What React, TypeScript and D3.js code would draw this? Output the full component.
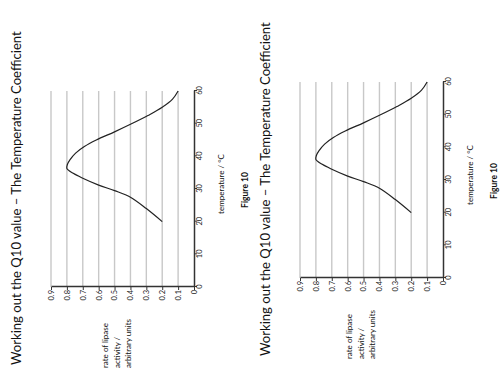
import { useEffect, useRef } from 'react';
import * as d3 from 'd3';

// Rate of lipase activity (arbitrary units)
const temperatures = [20, 24, 27.5, 29.5, 31.2, 33.3, 34.8, 36.3, 37.5, 39, 41, 43, 45, 47.5, 49.8, 52.5, 55, 57.5, 60];
const rates = [0.2, 0.3, 0.4, 0.5, 0.6, 0.7, 0.76, 0.8, 0.797, 0.78, 0.745, 0.69, 0.615, 0.5, 0.4, 0.29, 0.2, 0.135, 0.1];

const tempTicks = [0, 10, 20, 30, 40, 50, 60];
const rateTicks = [0, 0.1, 0.2, 0.3, 0.4, 0.5, 0.6, 0.7, 0.8, 0.9];
const rateTickLabels = ['0', '0.1', '0.2', '0.3', '0.4', '0.5', '0.6', '0.7', '0.8', '0.9'];

const title = 'Working out the Q10 value \u2013 The Temperature Coefficient';
const yLabelLines = ['rate of lipase', 'activity /', 'arbitrary units'];
const xLabel = 'temperature / \u00b0C';
const figureLabel = 'Figure 10';

// the same slide shows up twice, turned on its side
const slides = [
  { x: 0, y: 375, labelShift: 0 },
  { x: 249, y: 366, labelShift: -5 },
];

const FONT = 'Lato, "Open Sans", sans-serif';

export default function App() {
  const svgRef = useRef<SVGSVGElement | null>(null);

  useEffect(() => {
    if (!svgRef.current) return;
    const root = d3.select(svgRef.current);
    root.selectAll('*').remove();

    const x = d3.scaleLinear().domain([0, 60]).range([88, 284]);
    const y = d3.scaleLinear().domain([0, 0.9]).range([194, 51]);

    const points = temperatures.map((t, i) => ({ t, r: rates[i] }));
    const line = d3.line<{ t: number; r: number }>()
      .x(d => x(d.t))
      .y(d => y(d.r))
      .curve(d3.curveCatmullRom.alpha(0.5));

    slides.forEach(s => {
      const g = root.append('g')
        .attr('transform', `translate(${s.x},${s.y}) rotate(-90)`)
        .style('font-family', FONT);

      // title, sized so it spans the slide like the original
      const t = g.append('text')
        .attr('x', 10)
        .attr('y', 21)
        .attr('font-size', 17)
        .attr('fill', '#111')
        .text(title);
      const len = (t.node() as SVGTextElement).getComputedTextLength();
      if (len > 0) t.attr('font-size', 17 * 334 / len);

      // gridlines
      g.append('g')
        .selectAll('line')
        .data(rateTicks.filter(d => d > 0))
        .enter()
        .append('line')
        .attr('x1', x(0))
        .attr('x2', x(60))
        .attr('y1', d => y(d))
        .attr('y2', d => y(d))
        .attr('stroke', '#c8c8c8')
        .attr('stroke-width', 1.4);

      // axes
      const xAxis = g.append('g')
        .attr('transform', `translate(0,${y(0)})`)
        .call(d3.axisBottom(x).tickValues(tempTicks).tickSize(3).tickSizeOuter(0).tickPadding(0));
      const yAxis = g.append('g')
        .attr('transform', `translate(${x(0)},0)`)
        .call(d3.axisLeft(y).tickValues(rateTicks).tickSize(3).tickSizeOuter(0).tickPadding(0)
          .tickFormat((_, i) => rateTickLabels[i]));

      [xAxis, yAxis].forEach(a => {
        a.select('.domain').attr('stroke', '#333').attr('stroke-width', 1.5);
        a.selectAll('.tick line').attr('stroke', '#333').attr('stroke-width', 1);
        a.selectAll('.tick text')
          .attr('font-size', 7.5)
          .attr('font-family', FONT)
          .attr('fill', '#222');
      });

      // curve
      g.append('path')
        .datum(points)
        .attr('fill', 'none')
        .attr('stroke', '#222')
        .attr('stroke-width', 1.2)
        .attr('d', line);

      // y label (three lines, left aligned)
      const yl = g.append('text')
        .attr('font-size', 8)
        .attr('fill', '#111');
      yLabelLines.forEach((l, i) => {
        yl.append('tspan').attr('x', 7).attr('y', 108 + s.labelShift + i * 11.5).text(l);
      });

      g.append('text')
        .attr('x', 191)
        .attr('y', 223.5)
        .attr('text-anchor', 'middle')
        .attr('font-size', 8)
        .attr('fill', '#111')
        .text(xLabel);

      g.append('text')
        .attr('x', 185)
        .attr('y', 248)
        .attr('text-anchor', 'middle')
        .attr('font-size', 8.5)
        .attr('font-weight', 'bold')
        .attr('fill', '#111')
        .text(figureLabel);
    });
  }, []);

  return (
    <svg
      ref={svgRef}
      width={500}
      height={375}
      style={{ position: 'absolute', left: 0, top: 0, background: '#fff' }}
    />
  );
}
